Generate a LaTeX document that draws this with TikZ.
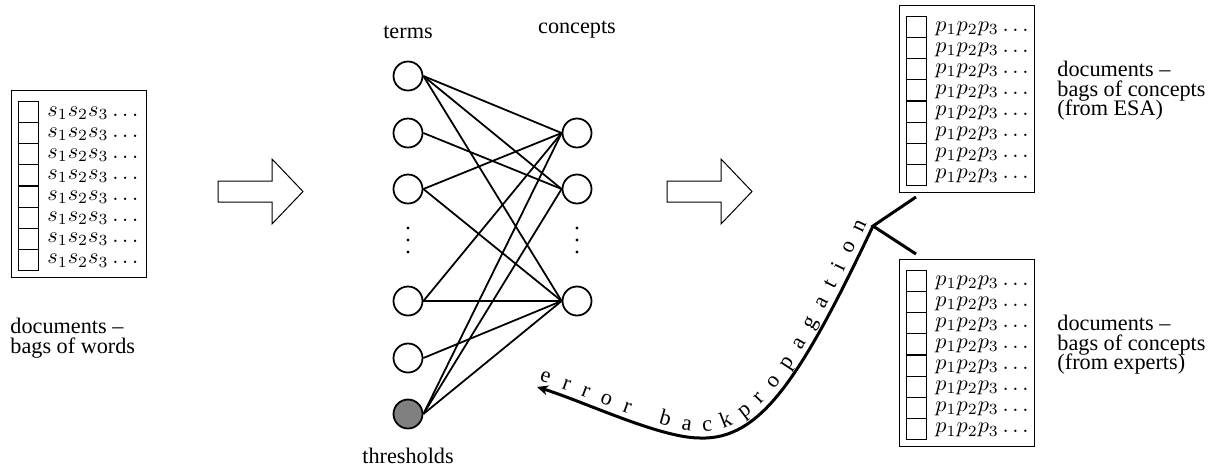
\documentclass[tikz,border=0pt]{standalone}
\usepackage{fontspec}
\setmainfont{Liberation Serif}
\usetikzlibrary{arrows.meta,decorations.text}
% keep caption lines at a fixed baseline distance
\lineskiplimit=-1000pt

\begin{document}
\begin{tikzpicture}[x=0.45pt,y=-0.45pt,
  docbox/.style={draw,line width=0.5pt,inner sep=0pt,
    minimum width={135*0.45pt},minimum height={187*0.45pt}},
  cell/.style={draw,line width=0.5pt,inner sep=0pt,
    minimum width={20.5*0.45pt},minimum height={21.1*0.45pt}},
  entry/.style={inner sep=0pt},
  caption/.style={align=left,inner sep=0pt,font=\fontsize{10}{8.8}\selectfont},
  neuron/.style={circle,draw,line width=0.8pt,inner sep=0pt,
    minimum size={29*0.45pt}},
  bias/.style={neuron,fill=gray},
  link/.style={line width=0.8pt},
  hollowarrow/.style={draw,line width=0.45pt,line join=miter},
  backprop/.style={line width=1.35pt},
  vdot/.style={fill=black}]

\useasboundingbox (0,0) rectangle (1211,470);

% document collections: one frame, eight rows of cells with their contents
\foreach \bn/\bx/\by/\sym in {words/11/90/s, esa/899/5/p, experts/899/259/p} {
  \node[docbox,anchor=north west] (\bn) at (\bx,\by) {};
  \foreach \r in {0,...,7} {
    \node[cell,anchor=north west] (\bn-c\r) at ({\bx+6.5},{\by+11+21.1*\r}) {};
    \node[entry,anchor=base west] (\bn-t\r) at ({\bx+36},{\by+11+15+21.1*\r})
      {$\sym_1\sym_2\sym_3\ldots$};
  }
}

% captions of the collections
\node[caption,anchor=north west] (words-cap) at (10,318)
  {documents --\\bags of words};
\node[caption,anchor=north west] (esa-cap) at (1057,61)
  {documents --\\bags of concepts\\(from ESA)};
\node[caption,anchor=north west] (experts-cap) at (1057,315)
  {documents --\\bags of concepts\\(from experts)};

% hollow block arrows between the stages
\foreach \ax in {218,667}
  \draw[hollowarrow] (\ax,181) -- ({\ax+54},181) -- ({\ax+54},159)
    -- ({\ax+85},191.5) -- ({\ax+54},224) -- ({\ax+54},202) -- (\ax,202) -- cycle;

% network: term layer with threshold unit, concept layer
\node[neuron] (t1) at (408,76)  {};
\node[neuron] (t2) at (408,133) {};
\node[neuron] (t3) at (408,189) {};
\node[neuron] (t4) at (408,301) {};
\node[neuron] (t5) at (408,358) {};
\node[bias]   (t6) at (408,414) {};
\node[neuron] (c1) at (577,133) {};
\node[neuron] (c2) at (577,189) {};
\node[neuron] (c3) at (577,301) {};

\foreach \y in {228,240,252} {
  \fill[vdot] (408,\y) circle (0.75pt);
  \fill[vdot] (577,\y) circle (0.75pt);
}

\foreach \a/\b in {t1/c1,t1/c2,t1/c3,t2/c2,t3/c1,t3/c3,
                   t4/c1,t4/c3,t5/c3,t6/c1,t6/c2,t6/c3}
  \draw[link] (\a.east) -- (\b.west);

\node[anchor=base] (terms) at (408,38) {terms};
\node[anchor=base] (concepts) at (577,33) {concepts};
\node[anchor=base] (thresholds) at (408,463) {thresholds};

% comparison of the two concept bags and the error fed back
\coordinate (J) at (873,226);
\coordinate (jesa) at (916,197);
\coordinate (jexp) at (916,254);
\coordinate (low) at (700,438);
\coordinate (tip) at (537,387);
\draw[backprop] (jesa) -- (J) -- (jexp);
\draw[backprop,-{Stealth[length=5pt,width=4.5pt,inset=1.5pt]}]
  (J) .. controls (800,380) and (760,440) .. (low)
      .. controls (660,438) and (585,402) .. (tip);
\path[decorate,decoration={text along path,text={error backpropagation},
    text align={fit to path},raise=3pt}]
  (tip) .. controls (585,402) and (660,438) .. (low)
        .. controls (760,440) and (800,380) .. (J);

\end{tikzpicture}
\end{document}
